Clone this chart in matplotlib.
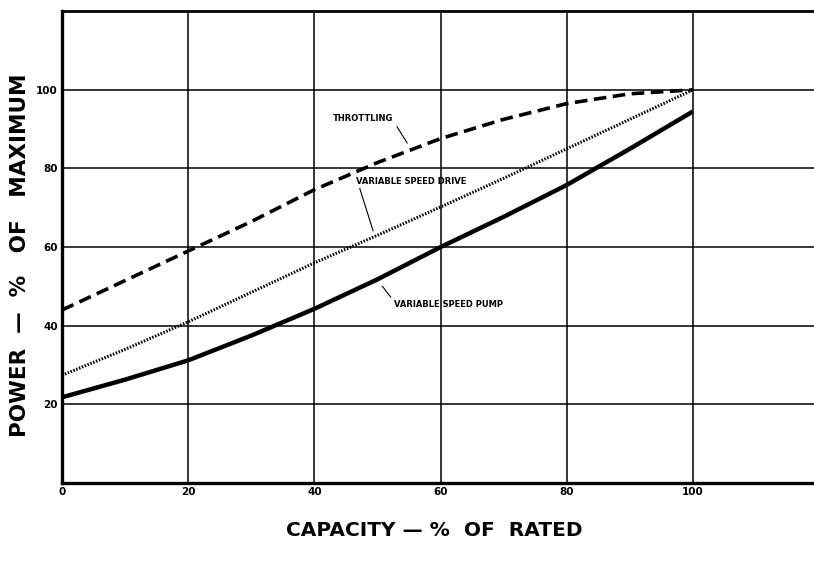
import numpy as np
import matplotlib
matplotlib.use('Agg')
import matplotlib.pyplot as plt

# capacity, % of rated
capacity = [0, 10, 20, 30, 40, 50, 60, 70, 80, 90, 100]
throttling = [44, 51.5, 59, 66.5, 74.6, 81.5, 87.6, 92.5, 96.5, 99, 100]
vs_drive = [27.4, 34, 41, 48.5, 56, 63, 70.2, 77.5, 85, 92.5, 100]
vs_pump = [21.8, 26.3, 31.2, 37.5, 44.3, 51.8, 60, 67.7, 75.8, 85, 94.5]

x_ticks = [0, 20, 40, 60, 80, 100]
y_ticks = [20, 40, 60, 80, 100]

fig = plt.figure(figsize=(8.14, 5.61), dpi=100)
ax = fig.add_axes([0.0762, 0.139, 0.9238, 0.841])

ax.plot(capacity, throttling, color='black', lw=2.6, linestyle=(0, (3.5, 1.8)))
ax.plot(capacity, vs_drive, color='black', lw=2.2, linestyle=(0, (0.5, 0.5)))
ax.plot(capacity, vs_pump, color='black', lw=3.2, solid_capstyle='butt')

ax.set_xlim(0, 119.2)
ax.set_ylim(0, 120)
ax.set_xticks(x_ticks)
ax.set_yticks(y_ticks)
ax.tick_params(length=0, labelsize=7.5, pad=3)
for lab in ax.get_xticklabels() + ax.get_yticklabels():
    lab.set_fontweight('bold')

ax.grid(True, color='black', lw=1.1)
ax.set_axisbelow(True)
ax.spines['right'].set_visible(False)
ax.spines['left'].set_linewidth(2.4)
ax.spines['bottom'].set_linewidth(2.4)
ax.spines['top'].set_linewidth(2.0)

# curve labels with leader lines
ax.text(42.9, 92.6, 'THROTTLING', fontsize=6, fontweight='bold', va='center')
ax.plot([53.1, 54.7], [90.6, 86.5], color='black', lw=0.8)
ax.text(46.6, 76.6, 'VARIABLE SPEED DRIVE', fontsize=6, fontweight='bold', va='center')
ax.plot([47.2, 49.3], [74.9, 64.2], color='black', lw=0.8)
ax.text(52.6, 45.4, 'VARIABLE SPEED PUMP', fontsize=6, fontweight='bold', va='center')
ax.plot([50.8, 52.1], [50, 47.3], color='black', lw=0.8)

fig.text(0.533, 0.055, 'CAPACITY — %  OF  RATED', fontsize=14.5, fontweight='bold',
         ha='center', va='center')
fig.text(0.024, 0.545, 'POWER  —  %   OF   MAXIMUM', fontsize=15.5, fontweight='bold',
         ha='center', va='center', rotation=90)

fig.savefig('out.png', dpi=100)
